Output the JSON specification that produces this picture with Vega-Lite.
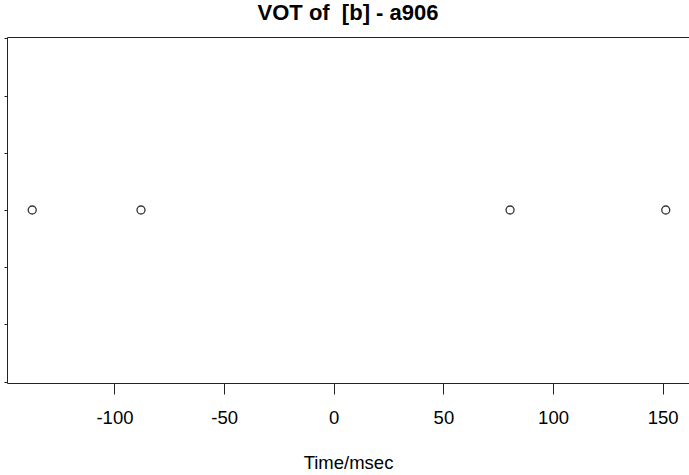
{
  "$schema": "https://vega.github.io/schema/vega-lite/v6.json",
  "autosize": "none",
  "width": 682,
  "height": 346,
  "padding": {"left": 7, "top": 37, "right": 0, "bottom": 92},
  "background": "white",
  "title": {"text": "VOT of \u00a0[b] - a906", "font": "Liberation Sans", "fontSize": 22, "fontWeight": "bold", "color": "black", "anchor": "middle", "offset": 12},
  "config": {"view": {"stroke": "#222", "strokeWidth": 1}},
  "data": {"values": [
    {"time": -137.5, "y": 1},
    {"time": -87.9, "y": 1},
    {"time": 80.4, "y": 1},
    {"time": 151.4, "y": 1}
  ]},
  "mark": {"type": "point", "shape": "circle", "filled": false, "size": 64, "stroke": "#333", "strokeWidth": 1.3, "opacity": 1},
  "encoding": {
    "x": {"field": "time", "type": "quantitative", "scale": {"domain": [-149, 162], "nice": false, "zero": false},
      "axis": {"title": "Time/msec", "values": [-100, -50, 0, 50, 100, 150], "labelExpr": "'' + datum.value", "grid": false, "domain": false, "tickColor": "#222", "tickSize": 11, "labelFont": "Liberation Sans", "labelFontSize": 18.5, "labelColor": "black", "labelPadding": 14, "labelFlush": false, "titleFont": "Liberation Sans", "titleFontSize": 18.5, "titleFontWeight": "normal", "titleColor": "black", "titlePadding": 27}},
    "y": {"field": "y", "type": "quantitative", "scale": {"domain": [0.395, 1.605], "nice": false, "zero": false},
      "axis": {"title": null, "values": [0.4, 0.6, 0.8, 1.0, 1.2, 1.4, 1.6], "grid": false, "domain": false, "labels": false, "tickColor": "#222", "tickSize": 3}}
  }
}
